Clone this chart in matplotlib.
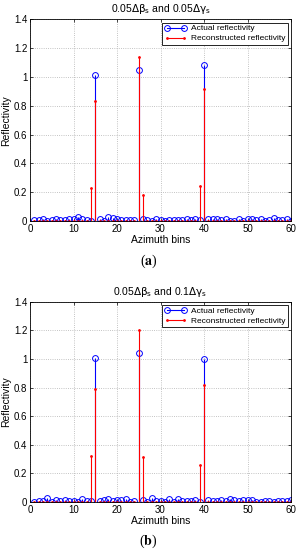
import numpy as np
import matplotlib
matplotlib.use("Agg")
import matplotlib.pyplot as plt
from matplotlib.lines import Line2D

# azimuth bins
bins = np.arange(1, 61)

# (a) 0.05 dBeta, 0.05 dGamma
actual_a = [0.005, 0.010, 0.015, 0.000, 0.007, 0.012, 0.007, 0.010, 0.015, 0.015,
            0.025, 0.015, 0.010, 0.000, 1.010, 0.015, 0.000, 0.025, 0.020, 0.015,
            0.005, 0.010, 0.007, 0.010, 1.050, 0.012, 0.007, 0.002, 0.015, 0.010,
            0.002, 0.007, 0.005, 0.007, 0.010, 0.015, 0.007, 0.015, 0.007, 1.080,
            0.015, 0.015, 0.015, 0.005, 0.015, 0.002, 0.002, 0.015, 0.002, 0.015,
            0.015, 0.005, 0.015, 0.002, 0.010, 0.020, 0.007, 0.007, 0.012, 0.002]
recon_a_bins = [14, 15, 25, 26, 39, 40]
recon_a_vals = [0.23, 0.835, 1.14, 0.18, 0.245, 0.915]

# (b) 0.05 dBeta, 0.1 dGamma
actual_b = [0.000, 0.010, 0.010, 0.028, 0.002, 0.015, 0.007, 0.015, 0.010, 0.010,
            0.002, 0.020, 0.010, 0.005, 1.010, 0.005, 0.015, 0.020, 0.005, 0.015,
            0.012, 0.018, 0.002, 0.005, 1.045, 0.012, 0.002, 0.030, 0.005, 0.007,
            0.000, 0.020, 0.002, 0.018, 0.010, 0.010, 0.005, 0.015, 0.002, 1.000,
            0.012, 0.005, 0.010, 0.015, 0.010, 0.018, 0.015, 0.005, 0.012, 0.012,
            0.012, 0.002, 0.002, 0.010, 0.007, 0.000, 0.005, 0.005, 0.007, 0.015]
recon_b_bins = [14, 15, 25, 26, 39, 40]
recon_b_vals = [0.32, 0.79, 1.20, 0.315, 0.26, 0.815]

titles = [r'0.05$\Delta\beta_s$ and 0.05$\Delta\gamma_s$',
          r'0.05$\Delta\beta_s$ and 0.1$\Delta\gamma_s$']
captions = ['a', 'b']

plt.rcParams['font.family'] = ['Liberation Sans', 'DejaVu Sans']
plt.rcParams['mathtext.fontset'] = 'custom'
plt.rcParams['mathtext.rm'] = 'DejaVu Sans'
plt.rcParams['mathtext.it'] = 'DejaVu Sans'

fig = plt.figure(figsize=(2.97, 5.5), dpi=100)
ax_a = fig.add_axes([0.101, 0.598, 0.879, 0.367])
ax_b = fig.add_axes([0.101, 0.0873, 0.879, 0.364])


def draw_panel(ax, actual, rbins, rvals, title):
    recon = np.zeros(len(bins))
    recon[np.array(rbins) - 1] = rvals

    # actual reflectivity (blue stems, open circles)
    ml, sl, bl = ax.stem(bins, actual, linefmt='b-', markerfmt='o', basefmt=' ')
    sl.set_linewidth(0.8)
    ml.set_markerfacecolor('none')
    ml.set_markeredgecolor('b')
    ml.set_markersize(4.2)
    ml.set_markeredgewidth(0.7)

    # reconstructed reflectivity (red stems, dots)
    ml2, sl2, bl2 = ax.stem(bins, recon, linefmt='r-', markerfmt='r.', basefmt='r-')
    sl2.set_linewidth(0.8)
    ml2.set_markersize(2.0)
    bl2.set_linewidth(0.8)

    ax.set_xlim(0, 60)
    ax.set_ylim(0, 1.4)
    ax.set_xticks(np.arange(0, 61, 10))
    ax.set_yticks(np.arange(0, 1.41, 0.2))
    ax.set_yticklabels(['0', '0.2', '0.4', '0.6', '0.8', '1', '1.2', '1.4'])
    ax.grid(True, linestyle=':', color='#b0b0b0', linewidth=0.6)
    ax.set_axisbelow(True)
    ax.tick_params(direction='in', top=True, right=True, labelsize=7,
                   length=2.5, width=0.5, pad=2)
    for s in ax.spines.values():
        s.set_linewidth(0.6)
    ax.set_xlabel('Azimuth bins', fontsize=7.5, labelpad=1)
    ax.set_ylabel('Reflectivity', fontsize=7.5, labelpad=2)
    ax.set_title(title, fontsize=7.5, pad=5)

    h1 = Line2D([0, 1], [0, 0], color='b', lw=0.8, marker='o', mfc='none',
                mec='b', ms=4.2, mew=0.7, markevery=[1])
    h2 = Line2D([0, 1], [0, 0], color='r', lw=0.8, marker='.', ms=2.0,
                markevery=[1])
    leg = ax.legend([h1, h2], ['Actual reflectivity', 'Reconstructed reflectivity'],
                    loc='upper right', fontsize=6.0, numpoints=2, handlelength=2.6,
                    handletextpad=0.6, borderpad=0.25, labelspacing=0.25,
                    fancybox=False, framealpha=1, edgecolor='k',
                    borderaxespad=0.4)
    leg.get_frame().set_linewidth(0.6)


draw_panel(ax_a, actual_a, recon_a_bins, recon_a_vals, titles[0])
draw_panel(ax_b, actual_b, recon_b_bins, recon_b_vals, titles[1])

for y, c in zip([1 - 261 / 550, 1 - 541 / 550], captions):
    fig.text(0.5, y, r'($\mathbf{' + c + r'}$)', ha='center', va='center',
             fontsize=10, family='Liberation Serif', math_fontfamily='stix')

fig.savefig('out.png', dpi=100)
